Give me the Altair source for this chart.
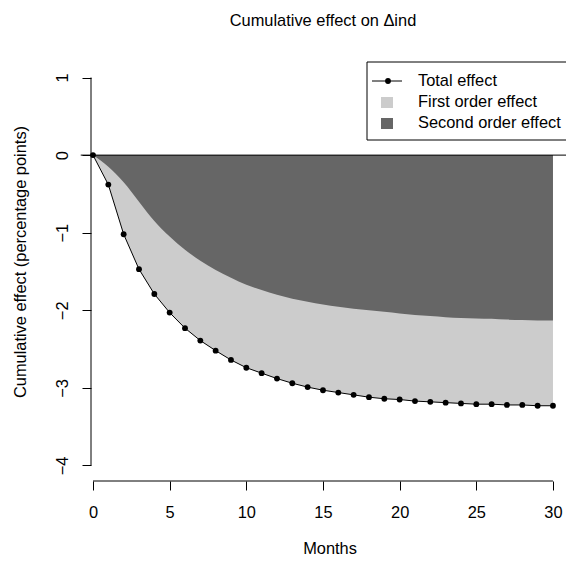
import altair as alt
import pandas as pd

# ---- data ----
months = list(range(31))
total_effect = [0.00, -0.38, -1.02, -1.47, -1.79, -2.03, -2.23, -2.39, -2.52, -2.64,
                -2.74, -2.81, -2.88, -2.94, -2.99, -3.03, -3.06, -3.09, -3.12, -3.14,
                -3.15, -3.17, -3.18, -3.19, -3.20, -3.21, -3.21, -3.22, -3.22, -3.23, -3.23]
second_order = [0.00, -0.15, -0.35, -0.60, -0.85, -1.05, -1.22, -1.36, -1.48, -1.58,
                 -1.67, -1.74, -1.80, -1.85, -1.89, -1.925, -1.955, -1.98, -2.00, -2.02,
                 -2.04, -2.06, -2.075, -2.09, -2.10, -2.105, -2.11, -2.12, -2.125, -2.13, -2.13]
x_ticks = [0, 5, 10, 15, 20, 25, 30]
y_ticks = [-4, -3, -2, -1, 0, 1]
legend_labels = ["Total effect", "First order effect", "Second order effect"]
title_text = "Cumulative effect on \u0394ind"
x_title = "Months"
y_title = "Cumulative effect (percentage points)"

FONT = "Liberation Sans"
FS = 16.4
DARK = "#666666"
LIGHT = "#cccccc"
W, H = 475, 419

df = pd.DataFrame({"month": months, "total": total_effect, "second": second_order,
                   "zero": [0.0] * len(months)})
one = pd.DataFrame({"k": [0]})

xs = alt.Scale(domain=[-0.13, 30.85], nice=False, zero=False)
ys = alt.Scale(domain=[-4.2, 1.2], nice=False, zero=False)

xaxis = alt.Axis(values=x_ticks, tickSize=9, labelPadding=14, labelFontSize=FS,
                 labelFont=FONT, labelColor="black", tickColor="black", domain=False,
                 grid=False, labelFlush=False, title=None)
yaxis = alt.Axis(values=y_ticks, tickSize=9, labelPadding=15, labelFontSize=FS,
                 labelFont=FONT, labelColor="black", tickColor="black", domain=False,
                 grid=False, labelFlush=False, labelAngle=-90, labelAlign="center",
                 labelBaseline="alphabetic", labelOverlap=False, title=None)

X = alt.X("month:Q", scale=xs, axis=xaxis)

# light area: from zero down to total (first + second order); dark drawn on top
light = alt.Chart(df).mark_area(color=LIGHT, opacity=1).encode(
    x=X, y=alt.Y("total:Q", scale=ys, axis=yaxis), y2="zero:Q")
dark = alt.Chart(df).mark_area(color=DARK, opacity=1, interpolate="monotone").encode(
    x=X, y=alt.Y("second:Q", scale=ys, axis=yaxis), y2="zero:Q")
zero_line = alt.Chart(one).mark_rule(color="black", strokeWidth=1).encode(
    x=alt.X(datum=-0.8, scale=xs, axis=xaxis), x2=alt.X2(datum=32),
    y=alt.Y(datum=0, scale=ys, axis=yaxis))
line = alt.Chart(df).mark_line(color="black", strokeWidth=1).encode(
    x=X, y=alt.Y("total:Q", scale=ys, axis=yaxis))
pts = alt.Chart(df).mark_circle(color="black", size=34, opacity=1).encode(
    x=X, y=alt.Y("total:Q", scale=ys, axis=yaxis))

# axis lines (R style: span first to last tick)
x_axis_line = alt.Chart(one).mark_rule(color="black", strokeWidth=1).encode(
    x=alt.X(datum=x_ticks[0], scale=xs, axis=xaxis), x2=alt.X2(datum=x_ticks[-1]),
    y=alt.value(H))
y_axis_line = alt.Chart(one).mark_rule(color="black", strokeWidth=1).encode(
    y=alt.Y(datum=y_ticks[-1], scale=ys, axis=yaxis), y2=alt.Y2(datum=y_ticks[0]),
    x=alt.value(0))

def txt(s, x, y, **kw):
    opts = dict(text=s, font=FONT, fontSize=FS, align="center", baseline="middle",
                color="black")
    opts.update(kw)
    return alt.Chart(one).mark_text(**opts).encode(x=alt.value(x), y=alt.value(y))

title = txt(title_text, 232, -41)
xt = txt(x_title, 239, 487)
yt = txt(y_title, -70, 200, angle=270)

# legend (manual, R-style box)
leg_box = alt.Chart(one).mark_rect(fill="white", stroke="black", strokeWidth=1).encode(
    x=alt.value(276), x2=alt.value(520), y=alt.value(0), y2=alt.value(78))
leg_texts = [txt(lbl, 327, 19 + 21 * i, align="left") for i, lbl in enumerate(legend_labels)]
leg_line = alt.Chart(one).mark_rule(color="black", strokeWidth=1).encode(
    x=alt.value(281), x2=alt.value(311), y=alt.value(19))
leg_dot = alt.Chart(one).mark_circle(color="black", size=34, opacity=1).encode(
    x=alt.value(297), y=alt.value(19))
leg_sq1 = alt.Chart(one).mark_rect(fill=LIGHT).encode(
    x=alt.value(290), x2=alt.value(302), y=alt.value(35), y2=alt.value(46))
leg_sq2 = alt.Chart(one).mark_rect(fill=DARK).encode(
    x=alt.value(290), x2=alt.value(302), y=alt.value(56), y2=alt.value(67))

chart = alt.layer(
    light, dark, zero_line, line, pts, x_axis_line, y_axis_line,
    title, xt, yt, leg_box, *leg_texts, leg_line, leg_dot, leg_sq1, leg_sq2
).properties(
    width=W, height=H,
    autosize=alt.AutoSizeParams(type="none"),
    padding={"left": 91, "top": 62, "right": 0, "bottom": 83},
    background="white",
).configure_view(stroke=None)

chart.save("out.html", embed_options={"renderer": "svg", "actions": False})
